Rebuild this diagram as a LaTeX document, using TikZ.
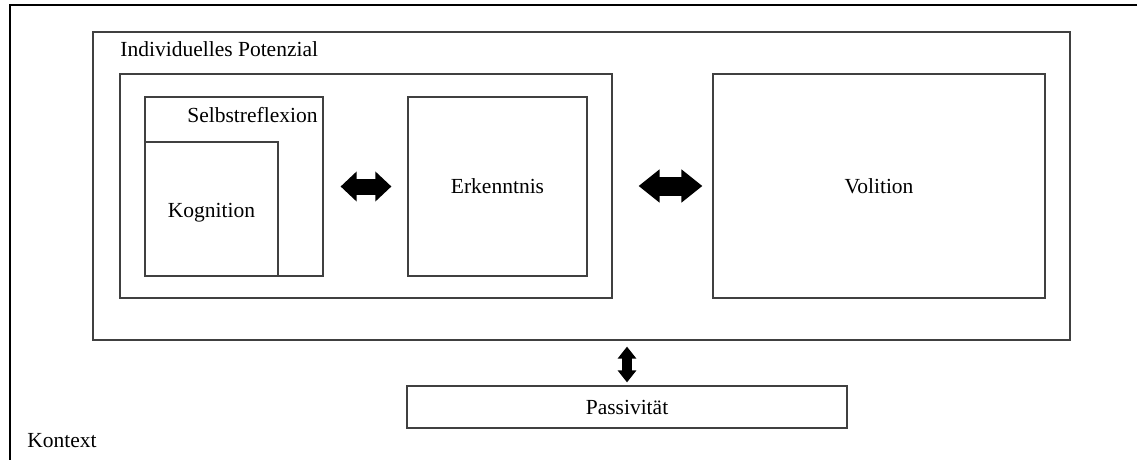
\documentclass[tikz,border=0pt]{standalone}
\usepackage{fontspec}
\setmainfont{Liberation Serif}
\usetikzlibrary{arrows.meta,fit,calc}
\tikzset{
  box/.style={draw=black!75, inner sep=0pt, line width=0.6pt},
  lbl/.style={anchor=base west, inner sep=0pt},
  bigarrow/.style={line width=8pt, arrows={Triangle[length=8pt,width=14.5pt]-Triangle[length=8pt,width=14.5pt]}},
  hugearrow/.style={line width=9.5pt, arrows={Triangle[length=10.5pt,width=16pt]-Triangle[length=10.5pt,width=16pt]}},
  smallarrow/.style={line width=5pt, arrows={Triangle[length=6pt,width=9pt]-Triangle[length=6pt,width=9pt]}}
}

\begin{document}
\begin{tikzpicture}[x=0.5pt, y=-0.5pt, font=\fontsize{10.75}{13}\selectfont]
\useasboundingbox (0,0) rectangle (1145,460);
% Kontext frame
\draw[line width=0.7pt] (1137,5) -- (10,5) -- (10,460);
\node[lbl] (kontext) at (27,447) {Kontext};

% individual potential
\node[box, fit={(93,32) (1070,340)}] (pot) {};
\node[lbl] (potlbl) at (120,57) {Individuelles Potenzial};
\node[box, fit={(120,74) (612,298)}] (kern) {};
\node[box, fit={(145,97) (323,276)}] (selbst) {};
\node[lbl] (selbstlbl) at (187,123) {Selbstreflexion};
\node[box, fit={(145,142) (278,276)}] (kogn) {};
\node (kognlbl) at ([yshift=-2pt]kogn.center) {Kognition};
\node[box, fit={(408,97) (587,276)}] (erk) {};
\node (erklbl) at (erk.center) {Erkenntnis};
\node[box, fit={(713,74) (1045,298)}] (vol) {};
\node (vollbl) at (vol.center) {Volition};

% passivity
\node[box, fit={(407,386) (847,428)}] (pass) {};
\node (passlbl) at (pass.center) {Passivität};

% arrows
\draw[bigarrow, shorten <=8.5pt, shorten >=8pt] (selbst.east) -- (erk.west);
\draw[hugearrow, shorten <=13pt, shorten >=5pt] (kern.east) -- (vol.west);
\draw[smallarrow, shorten <=3pt, shorten >=1.5pt] (pass.north |- pot.south) -- (pass.north);
\end{tikzpicture}
\end{document}
